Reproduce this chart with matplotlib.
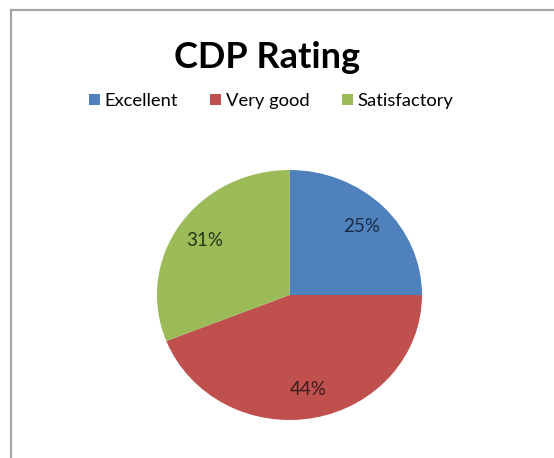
import matplotlib
matplotlib.use("Agg")
import matplotlib.pyplot as plt
from matplotlib.patches import Patch
from matplotlib.lines import Line2D

labels = ["Excellent", "Very good", "Satisfactory"]
shares = [25, 44, 31]
colors = ["#4f81bd", "#c0504d", "#9bbb59"]
label_colors = ["#1c2b45", "#3b1b1b", "#2a3319"]

plt.rcParams['font.family'] = ['Lato', 'DejaVu Sans']

fig = plt.figure(figsize=(5.54, 4.58), dpi=100)
fig.patch.set_facecolor("white")

# chart frame (left and top edge of the embedded chart)
fig.add_artist(Line2D([11 / 554, 11 / 554], [0, 1 - 10 / 458], transform=fig.transFigure,
                      color="#a6a6a6", lw=1.6))
fig.add_artist(Line2D([11 / 554, 1], [1 - 10 / 458, 1 - 10 / 458], transform=fig.transFigure,
                      color="#a6a6a6", lw=1.6))

fig.text(267.5 / 554, 1 - 57 / 458, "CDP Rating", ha="center", va="center",
         fontsize=26, fontweight="bold", color="black")

handles = [Patch(facecolor=c, edgecolor="none") for c in colors]
fig.legend(handles, labels, loc="center", bbox_to_anchor=(271 / 554, 1 - 101 / 458), ncol=3,
           frameon=False, fontsize=13.2, handlelength=0.6, handleheight=0.6,
           handletextpad=0.25, columnspacing=1.75)

ax = fig.add_axes([157 / 554, 38 / 458, 265 / 554, 250 / 458])
wedges, texts, autotexts = ax.pie(shares, colors=colors, startangle=90, counterclock=False,
                                  autopct="%d%%", pctdistance=0.77,
                                  wedgeprops=dict(linewidth=0),
                                  textprops=dict(fontsize=13.5))
for t, c in zip(autotexts, label_colors):
    t.set_color(c)
ax.set_aspect("auto")
ax.set_xlim(-1, 1)
ax.set_ylim(-1, 1)
ax.axis("off")

fig.savefig("out.png", dpi=100)
